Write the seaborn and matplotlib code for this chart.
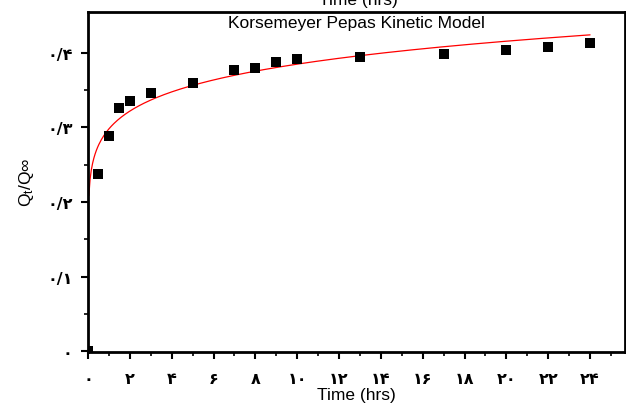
import numpy as np
import pandas as pd
import matplotlib
matplotlib.use("Agg")
import matplotlib.pyplot as plt
import seaborn as sns

# measured release data (fraction released vs time)
time_hrs = [0, 0.5, 1, 1.5, 2, 3, 5, 7, 8, 9, 10, 13, 17, 20, 22, 24]
release = [0.0, 0.237, 0.288, 0.326, 0.335, 0.346, 0.360, 0.377, 0.380,
           0.388, 0.392, 0.395, 0.398, 0.404, 0.408, 0.413]

# Korsmeyer-Peppas fit parameters  Q = k * t^n
k_fit = 0.298
n_fit = 0.111
fit_start, fit_end = 0.04, 24

x_ticks = list(range(0, 25, 2))
y_ticks = [0, 0.1, 0.2, 0.3, 0.4]

fa = "۰۱۲۳۴۵۶۷۸۹"


def to_fa(s):
    return "".join(fa[int(c)] if c.isdigit() else c for c in s)


x_labels = [to_fa(str(v)) for v in x_ticks]
y_labels = ["۰"] + [to_fa("0/%d" % int(round(v * 10))) for v in y_ticks[1:]]

df = pd.DataFrame({"time": time_hrs, "q": release})
t_fit = np.linspace(fit_start, fit_end, 400)
fit_df = pd.DataFrame({"time": t_fit, "q": k_fit * t_fit ** n_fit})

sns.set_style("ticks")
plt.rcParams["font.family"] = ["Liberation Sans", "DejaVu Sans"]
plt.rcParams["text.color"] = "black"
plt.rcParams["axes.labelcolor"] = "black"
plt.rcParams["xtick.color"] = "black"
plt.rcParams["ytick.color"] = "black"
plt.rcParams["mathtext.default"] = "regular"

fig = plt.figure(figsize=(6.26, 4.06), dpi=100)
ax = fig.add_axes([88 / 626, 53.5 / 406, 537 / 626, 339.5 / 406])

sns.lineplot(data=fit_df, x="time", y="q", ax=ax, color="red", linewidth=0.9)
sns.scatterplot(data=df, x="time", y="q", ax=ax, marker="s", color="black",
                s=50, edgecolor="black", linewidth=0, zorder=3)

ax.set_xlim(0, 25.67)
ax.set_ylim(-0.0005, 0.4547)
ax.set_xticks(x_ticks)
ax.set_xticklabels(x_labels, family=["DejaVu Sans"], fontweight="bold", fontsize=11.5)
ax.set_yticks(y_ticks)
ax.set_yticklabels(y_labels, family=["DejaVu Sans"], fontweight="bold", fontsize=11.5)
ax.set_xticks(np.arange(0, 26, 1), minor=True)
ax.set_yticks(np.arange(0, 0.45, 0.05), minor=True)
ax.tick_params(axis="x", which="major", pad=9)
ax.tick_params(axis="y", which="major", pad=6)
ax.tick_params(which="major", direction="out", length=5, width=1.5)
ax.tick_params(which="minor", direction="out", length=3, width=1.2)

for side in ["left", "bottom", "top", "right"]:
    ax.spines[side].set_visible(True)
    ax.spines[side].set_linewidth(2)
    ax.spines[side].set_color("black")

ax.set_xlabel("Time (hrs)", fontsize=12.5, labelpad=1)
ax.set_ylabel("Q$_t$/Q∞", fontsize=12.5, labelpad=8)
ax.set_title("Korsemeyer Pepas Kinetic Model", fontsize=12.5, y=0.955, pad=0)

# top axis label cut off by the figure edge
fig.text(0.573, 1 - 5 / 406, "Time (hrs)", ha="center", va="baseline", fontsize=12.5)

fig.savefig("out.png", dpi=100)
